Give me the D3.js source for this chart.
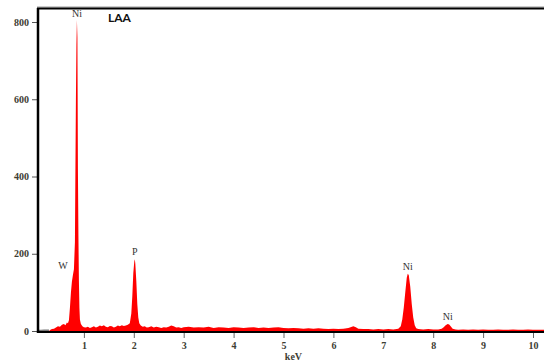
<!DOCTYPE html>
<html>
<head>
<meta charset="utf-8">
<script src="https://cdn.jsdelivr.net/npm/d3@7"></script>
<style>
  body { margin: 0; background: #fff; }
  svg { display: block; }
  .tick-label { font-family: "Liberation Serif", "DejaVu Serif", serif; font-weight: bold; font-size: 10px; fill: #3d3d33; }
  .peak-label { font-family: "Liberation Serif", serif; font-size: 10px; fill: #333; }
</style>
</head>
<body>
<svg id="chart" width="544" height="363"></svg>
<script>
'use strict';

// x ticks (keV) and y ticks (counts)
const xTicks = [1, 2, 3, 4, 5, 6, 7, 8, 9, 10];
const yTicks = [0, 200, 400, 600, 800];

// low-energy cut-off region, drawn in grey
const cutoffKeV = [0.08, 0.14, 0.20, 0.26, 0.30];
const cutoffCounts = [3, 3, 4, 4, 4];

// spectrum: energy (keV) and counts
const energy = [
	0.30, 0.33, 0.36, 0.40, 0.44, 0.48, 0.52, 0.56, 0.60, 0.63, 0.66, 0.68, 0.70, 0.72, 0.74, 0.76, 0.78, 0.80,
	0.82, 0.83, 0.84, 0.85, 0.86, 0.87, 0.875, 0.88, 0.89, 0.90, 0.91, 0.92, 0.94, 0.97,
	1.00, 1.04, 1.08, 1.12, 1.16, 1.20, 1.24, 1.28, 1.32, 1.36, 1.40, 1.44, 1.48, 1.52, 1.56, 1.60, 1.64, 1.68,
	1.72, 1.76, 1.80, 1.84, 1.88, 1.92, 1.95, 1.97, 1.99, 2.01, 2.02, 2.03, 2.05, 2.07, 2.09, 2.11, 2.14, 2.18,
	2.22, 2.26, 2.30, 2.35, 2.40, 2.45, 2.50, 2.55, 2.60, 2.65, 2.70, 2.75, 2.80, 2.85, 2.90, 2.95,
	3.00, 3.10, 3.20, 3.30, 3.40, 3.50, 3.60, 3.70, 3.80, 3.90, 4.00, 4.10, 4.20, 4.30, 4.40, 4.50, 4.60, 4.70,
	4.80, 4.90, 5.00, 5.10, 5.20, 5.30, 5.40, 5.50, 5.60, 5.70, 5.80, 5.90, 6.00, 6.10, 6.20, 6.30, 6.40, 6.45,
	6.50, 6.60, 6.70, 6.80, 6.90, 7.00, 7.10, 7.20, 7.30, 7.35, 7.38, 7.41, 7.44, 7.47, 7.49, 7.51, 7.54, 7.57,
	7.60, 7.63, 7.66, 7.70, 7.80, 7.90, 8.00, 8.10, 8.17, 8.21, 8.25, 8.29, 8.32, 8.35, 8.39, 8.45, 8.50, 8.60,
	8.70, 8.80, 8.90, 9.00, 9.10, 9.20, 9.30, 9.40, 9.50, 9.60, 9.70, 9.80, 9.90, 10.00, 10.10, 10.25
];
const counts = [
	0, 3, 5, 6, 9, 12, 11, 16, 18, 15, 22, 20, 28, 60, 100, 128, 145, 160,
	230, 420, 600, 740, 805, 760, 600, 420, 250, 130, 60, 30, 18, 12,
	10, 9, 11, 8, 10, 12, 9, 11, 14, 12, 15, 11, 10, 13, 12, 9, 11, 14,
	12, 15, 13, 14, 16, 20, 45, 90, 150, 180, 186, 175, 130, 70, 35, 20, 14, 11,
	12, 9, 10, 12, 9, 11, 10, 8, 10, 9, 11, 14, 12, 9, 10, 8,
	10, 11, 9, 10, 9, 11, 8, 10, 9, 8, 10, 9, 8, 9, 10, 8, 9, 8,
	9, 10, 8, 7, 8, 7, 6, 7, 6, 7, 6, 5, 6, 5, 6, 8, 12, 10,
	6, 5, 5, 4, 5, 4, 5, 4, 6, 12, 30, 60, 100, 138, 148, 145, 115, 70,
	35, 15, 7, 5, 4, 5, 4, 4, 6, 10, 15, 18, 17, 12, 6, 4, 3, 4,
	3, 4, 3, 4, 3, 3, 4, 3, 3, 4, 3, 3, 4, 3, 3, 3
];

// peak labels
const peakNames = ['Ni', 'W', 'P', 'Ni', 'Ni'];
const peakKeV = [0.86, 0.70, 2.02, 7.49, 8.29];
const peakCounts = [805, 150, 186, 148, 18];

const svg = d3.select('#chart');
const plotLeft = 38, plotRight = 544, plotTop = 8, plotBottom = 332;

const x = d3.scaleLinear().domain([0, 10]).range([34, 533]);
const y = d3.scaleLinear().domain([0, 800]).range([331, 22]);

svg.append('clipPath').attr('id', 'plot-clip')
	.append('rect').attr('x', plotLeft).attr('y', plotTop).attr('width', plotRight - plotLeft).attr('height', plotBottom - plotTop);

const plot = svg.append('g').attr('clip-path', 'url(#plot-clip)');

const area = d3.area()
	.x(d => x(d[0]))
	.y0(y(0))
	.y1(d => y(d[1]));

plot.append('path')
	.datum(d3.zip(cutoffKeV, cutoffCounts))
	.attr('d', area)
	.attr('fill', '#777');

plot.append('path')
	.datum(d3.zip(energy, counts))
	.attr('d', area)
	.attr('fill', '#ff0000');

// x axis
const xAxis = svg.append('g')
	.attr('transform', `translate(0,${plotBottom})`)
	.call(d3.axisBottom(x).tickValues(xTicks).tickSize(6).tickSizeOuter(0).tickFormat(d3.format('d')));
xAxis.select('.domain').remove();
xAxis.selectAll('.tick line').attr('stroke', '#666');
xAxis.selectAll('.tick text').attr('class', 'tick-label').attr('dy', '0.9em').attr('y', 8);

// y axis
const yAxis = svg.append('g')
	.attr('transform', `translate(${plotLeft},0)`)
	.call(d3.axisLeft(y).tickValues(yTicks).tickSize(6).tickSizeOuter(0));
yAxis.select('.domain').remove();
yAxis.selectAll('.tick line').attr('stroke', '#555');
yAxis.selectAll('.tick text').attr('class', 'tick-label').attr('x', -9);

// frame lines
svg.append('line').attr('x1', plotLeft - 1).attr('x2', plotRight).attr('y1', plotTop - 1).attr('y2', plotTop - 1)
	.attr('stroke', '#999').attr('stroke-width', 1);
svg.append('line').attr('x1', plotLeft - 1).attr('x2', plotRight).attr('y1', plotTop + 0.5).attr('y2', plotTop + 0.5)
	.attr('stroke', '#000').attr('stroke-width', 2);
svg.append('line').attr('x1', plotLeft).attr('x2', plotLeft).attr('y1', plotTop).attr('y2', plotBottom + 1)
	.attr('stroke', '#000').attr('stroke-width', 2.5);
svg.append('line').attr('x1', plotLeft - 1).attr('x2', plotRight).attr('y1', plotBottom).attr('y2', plotBottom)
	.attr('stroke', '#000').attr('stroke-width', 2);

// peak labels
svg.append('g').selectAll('text')
	.data(d3.zip(peakNames, peakKeV, peakCounts))
	.join('text')
	.attr('class', 'peak-label')
	.attr('x', (d, i) => x(d[1]) + (d[0] === 'W' ? -6 : 0))
	.attr('y', d => Math.max(y(d[2]) - 4, 17))
	.attr('text-anchor', 'middle')
	.text(d => d[0]);

// sample name
svg.append('text')
	.attr('x', 108).attr('y', 22)
	.attr('font-family', 'Lato, "Open Sans", sans-serif')
	.attr('font-weight', 'bold').attr('font-size', 12)
	.attr('fill', '#111')
	.text('LAA');

// axis title
svg.append('text')
	.attr('x', x(5.2)).attr('y', 360)
	.attr('class', 'tick-label')
	.attr('text-anchor', 'middle')
	.text('keV');
</script>
</body>
</html>
